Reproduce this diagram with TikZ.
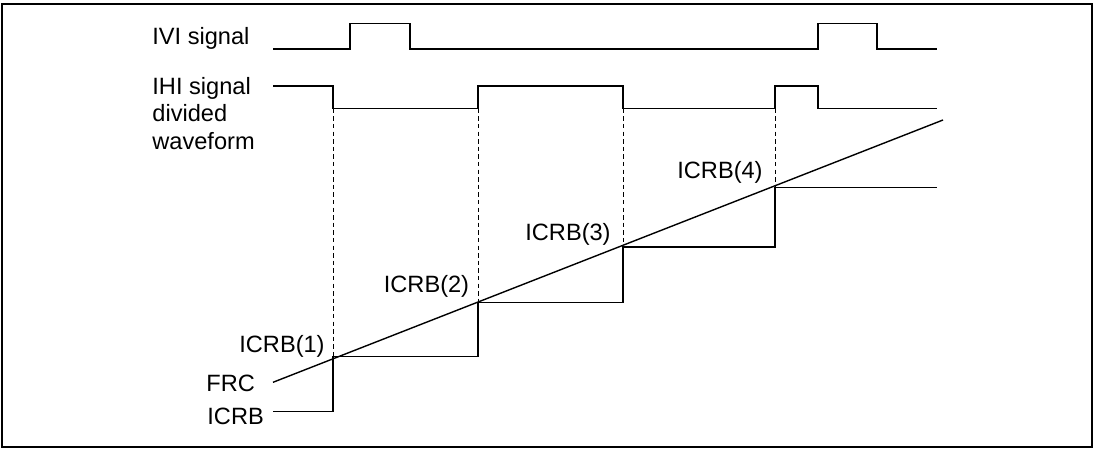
\documentclass[tikz,border=0pt]{standalone}
\usepackage{fontspec}
\setmainfont{Liberation Sans}
\usepackage{tikz}
\usetikzlibrary{positioning}

\begin{document}
\begin{tikzpicture}[x=0.5pt,y=-0.5pt, every node/.style={font=\fontsize{11.8}{13.7}\selectfont,inner sep=0pt}, wave/.style={line width=0.7pt,line join=miter}, guide/.style={line width=0.5pt,dash pattern=on 2.2pt off 1.6pt}, lbl/.style={anchor=base east}, signame/.style={anchor=base west,align=left}]
\useasboundingbox (0,0) rectangle (1096,449);
\draw[line width=1pt] (2,4) rectangle (1092,447);
% signal names
\node[signame] (ivi) at (152,45) {IVI signal};
\node[signame,anchor=north west] (ihi) at (152,77) {IHI signal\\divided\\waveform};
\node[signame] (frc) at (206,391.5) {FRC};
\node[signame] (icrb) at (207,424) {ICRB};
% waveforms
\draw[wave] (273,49) -- (350,49) -- (350,23.5) -- (410,23.5) -- (410,49) -- (818,49) -- (818,23.5) -- (877,23.5) -- (877,49) -- (937,49);
\draw[wave] (273,86) -- (333,86) -- (333,108.7) -- (478,108.7) -- (478,86) -- (623,86) -- (623,108.7) -- (775,108.7) -- (775,86) -- (818,86) -- (818,108.7) -- (937,108.7);
% capture points
\coordinate (c1) at (333,356.5); \coordinate (c2) at (478,302.5); \coordinate (c3) at (623,247); \coordinate (c4) at (775,187.5);
\draw[wave] (273,382.3) -- (943,120);
\draw[wave] (273,411.7) -| (c1) -| (c2) -| (c3) -| (c4) -- (937,187.5);
\draw[guide] (333,108.7) -- (c1); \draw[guide] (478,108.7) -- (c2); \draw[guide] (623,108.7) -- (c3); \draw[guide] (775,108.7) -- (c4);
% register values
\node[lbl] (icrb1) at (325,352.5) {ICRB(1)};
\node[lbl] (icrb2) at (469.5,292.5) {ICRB(2)};
\node[lbl] (icrb3) at (611,240.5) {ICRB(3)};
\node[lbl] (icrb4) at (763,178.5) {ICRB(4)};
\end{tikzpicture}
\end{document}
